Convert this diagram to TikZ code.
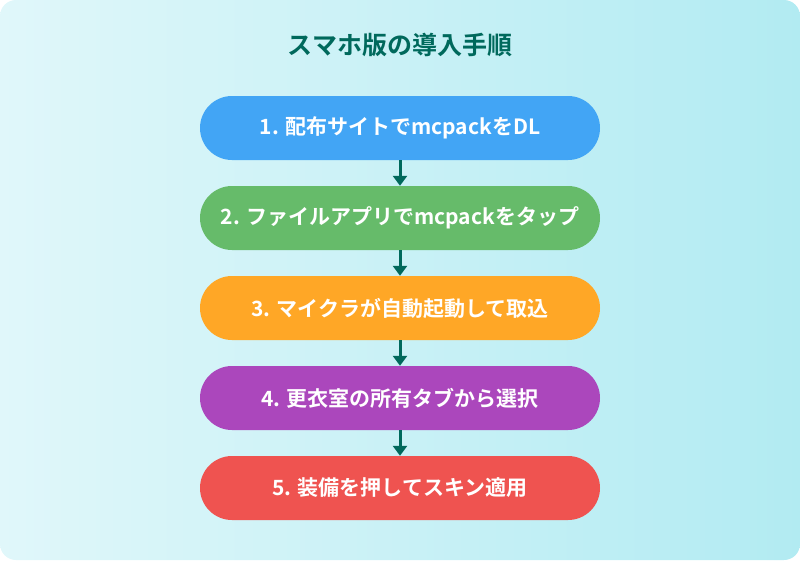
\documentclass[tikz,border=0pt]{standalone}
\usepackage{fontspec}
\setmainfont{Noto Sans CJK JP}[BoldFont=* Bold]
\usetikzlibrary{arrows.meta}
\definecolor{bgA}{HTML}{E0F7FA}
\definecolor{bgB}{HTML}{B2EBF2}
\definecolor{ttl}{HTML}{00695C}
\definecolor{c1}{HTML}{42A5F5}
\definecolor{c2}{HTML}{66BB6A}
\definecolor{c3}{HTML}{FFA726}
\definecolor{c4}{HTML}{AB47BC}
\definecolor{c5}{HTML}{EF5350}
\tikzset{
 pill/.style={draw=none,rounded corners=32pt,minimum width=400pt,minimum height=64pt,inner sep=0pt,text=white,font=\bfseries\fontsize{21}{24}\selectfont},
 arr/.style={draw=ttl,line width=3pt,-{Triangle[width=14pt,length=10pt]}}
}
\begin{document}
\begin{tikzpicture}[x=1pt,y=-1pt]
\useasboundingbox (0,0) rectangle (800,560);
\shade[shading angle=135,left color=bgA,right color=bgB,rounded corners=16pt] (0,0) rectangle (800,560);
\node[text=ttl,font=\bfseries\fontsize{25}{28}\selectfont] (title) at (400,45) {スマホ版の導入手順};
\node[pill,fill=c1] (s1) at (400,128) {1. 配布サイトでmcpackをDL};
\node[pill,fill=c2] (s2) at (400,218) {2. ファイルアプリでmcpackをタップ};
\node[pill,fill=c3] (s3) at (400,308) {3. マイクラが自動起動して取込};
\node[pill,fill=c4] (s4) at (400,398) {4. 更衣室の所有タブから選択};
\node[pill,fill=c5] (s5) at (400,488) {5. 装備を押してスキン適用};
\draw[arr] (s1) -- (s2);
\draw[arr] (s2) -- (s3);
\draw[arr] (s3) -- (s4);
\draw[arr] (s4) -- (s5);
\end{tikzpicture}
\end{document}
